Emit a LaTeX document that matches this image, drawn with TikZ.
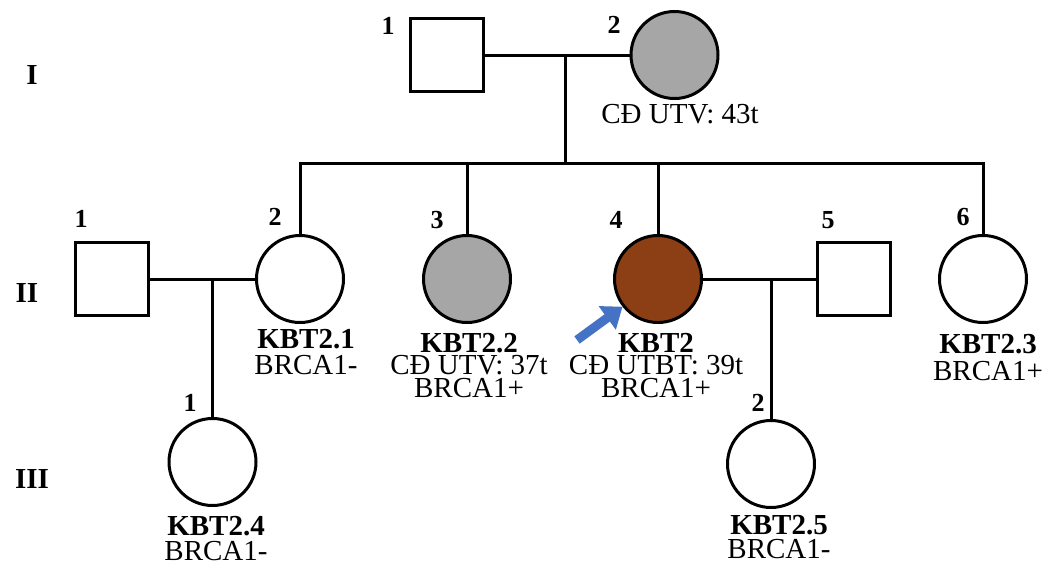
\documentclass[tikz,border=0pt]{standalone}
\usepackage{fontspec}
\setmainfont{Liberation Serif}
\usetikzlibrary{arrows.meta}
\definecolor{affgray}{RGB}{166,166,166}
\definecolor{probrown}{RGB}{140,62,20}
\definecolor{arrblue}{RGB}{68,114,196}
\tikzset{
  male/.style={draw=black, line width=3pt, fill=white, minimum size=73pt, inner sep=0pt, rectangle},
  female/.style={draw=black, line width=3pt, fill=white, minimum size=87pt, inner sep=0pt, circle},
  link/.style={line width=3pt, line cap=rect},
  num/.style={font=\fontsize{26}{26}\selectfont\bfseries, inner sep=0pt},
  gen/.style={font=\fontsize{29}{29}\selectfont\bfseries, inner sep=0pt},
  txt/.style={font=\fontsize{29}{29}\selectfont, inner sep=0pt, anchor=base},
  lab/.style={font=\fontsize{29}{#1}\selectfont, inner sep=0pt, anchor=base, align=center},
  lab/.default=22.5,
}
\begin{document}
\begin{tikzpicture}[x=1pt, y=-1pt]
\useasboundingbox (0,0) rectangle (1052,565);
% generation labels
\node[gen] (gI) at (32,75) {I};
\node[gen] (gII) at (27,293) {II};
\node[gen] (gIII) at (32,479) {III};
% generation I
\node[male] (I1) at (446.5,55) {};
\node[female, fill=affgray] (I2) at (674.5,55) {};
\node[num] (nI1) at (388,26) {1};
\node[num] (nI2) at (614,25) {2};
\node[txt] (tI2) at (680,123) {CĐ UTV: 43t};
% generation II
\node[male] (II1) at (111.5,279) {};
\node[female] (II2) at (300,279) {};
\node[female, fill=affgray] (II3) at (467,279) {};
\node[female, fill=probrown] (II4) at (658,279) {};
\node[male] (II5) at (853.5,279) {};
\node[female] (II6) at (983,279) {};
\node[num] (nII1) at (81,219) {1};
\node[num] (nII2) at (275,217) {2};
\node[num] (nII3) at (437,220) {3};
\node[num] (nII4) at (616,220) {4};
\node[num] (nII5) at (828,220) {5};
\node[num] (nII6) at (963,217) {6};
% generation III
\node[female] (III1) at (212.5,462) {};
\node[female] (III2) at (771,464) {};
\node[num] (nIII1) at (190,403) {1};
\node[num] (nIII2) at (758,403) {2};
% labels (anchored at the baseline of the last line)
\node[lab=26] (k21) at (306,374) {\textbf{KBT2.1}\\BRCA1-};
\node[lab] (k22) at (469,397) {\textbf{KBT2.2}\\CĐ UTV: 37t\\BRCA1+};
\node[lab] (k2) at (656,397) {\textbf{KBT2}\\CĐ UTBT: 39t\\BRCA1+};
\node[lab=27] (k23) at (988,380) {\textbf{KBT2.3}\\BRCA1+};
\node[lab=25] (k24) at (216,560) {\textbf{KBT2.4}\\BRCA1-};
\node[lab=24] (k25) at (779,558) {\textbf{KBT2.5}\\BRCA1-};
% coordinates
\coordinate (mI) at (565,55);
\coordinate (sibL) at (300,163);
\coordinate (sibM) at (565,163);
\coordinate (sibR) at (983,163);
\coordinate (s3) at (467,163);
\coordinate (s4) at (658,163);
\coordinate (mII1) at (212.5,279);
\coordinate (mII2) at (771,279);
% connectors
\draw[link] (I1.east) -- (I2.west);
\draw[link] (mI) -- (sibM);
\draw[link] (sibL) -- (sibR);
\draw[link] (sibL) -- (II2.north);
\draw[link] (s3) -- (II3.north);
\draw[link] (s4) -- (II4.north);
\draw[link] (sibR) -- (II6.north);
\draw[link] (II1.east) -- (II2.west);
\draw[link] (II4.east) -- (II5.west);
\draw[link] (mII1) -- (III1.north);
\draw[link] (mII2) -- (III2.north);
% proband arrow
\coordinate (arrT) at (577,340);
\draw[arrblue, line width=9pt, -{Triangle[length=19pt,width=28pt]}] (arrT) -- (II4.218);
\end{tikzpicture}
\end{document}
